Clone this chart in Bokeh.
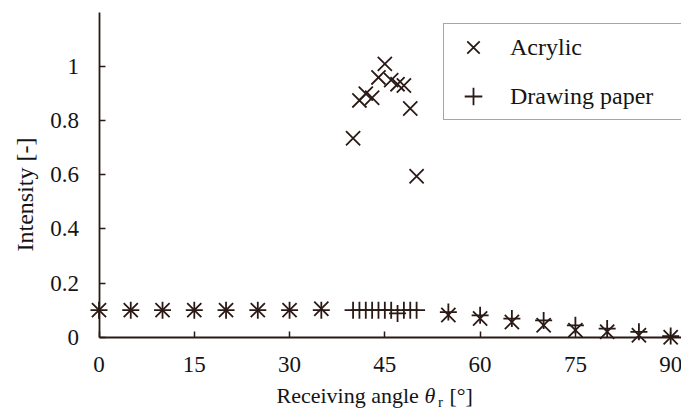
import math
from bokeh.plotting import figure
from bokeh.models import (Range1d, FixedTicker, Label, LabelSet, Legend, LegendItem,
                          ColumnDataSource, CustomJSTickFormatter)
from bokeh.embed import file_html
from bokeh.resources import INLINE

# ---- data ----
angles = [0, 5, 10, 15, 20, 25, 30, 35, 40, 41, 42, 43, 44, 45, 46, 47, 48, 49, 50,
          55, 60, 65, 70, 75, 80, 85, 90]
acrylic = [0.10, 0.10, 0.10, 0.10, 0.10, 0.10, 0.10, 0.105, 0.735, 0.875, 0.90, 0.885,
           0.96, 1.01, 0.95, 0.935, 0.93, 0.845, 0.595,
           0.082, 0.069, 0.056, 0.044, 0.026, 0.02, 0.007, 0.0]
drawing_paper = [0.10, 0.10, 0.10, 0.10, 0.10, 0.10, 0.10, 0.10, 0.10, 0.10, 0.10, 0.10,
                 0.10, 0.10, 0.10, 0.088, 0.10, 0.10, 0.10,
                 0.093, 0.081, 0.069, 0.062, 0.044, 0.032, 0.02, 0.004]
series_names = ["Acrylic", "Drawing paper"]
x_ticks = [0, 15, 30, 45, 60, 75, 90]
x_tick_labels = ["0", "15", "30", "45", "60", "75", "90"]
y_ticks = [0, 0.2, 0.4, 0.6, 0.8, 1.0]
y_tick_labels = ["0", "0.2", "0.4", "0.6", "0.8", "1"]
x_title = "Receiving angle "
x_title_sym = "θ"
x_title_sub = "r"
x_title_unit = " [°]"
y_title = "Intensity [-]"

MARK = "#2a1a16"
TEXT = "#141414"
FONT = "Liberation Serif"

# ---- layout: the plotting frame covers the whole canvas ----
W, H = 681, 410
ORIGIN_PX = (98.5, 336.7)        # canvas pixel of data (0, 0)
PX_PER_X = 6.352
PX_PER_Y = 270.6
X0 = -ORIGIN_PX[0] / PX_PER_X
X1 = (W - ORIGIN_PX[0]) / PX_PER_X
Y1 = ORIGIN_PX[1] / PX_PER_Y
Y0 = -(H - ORIGIN_PX[1]) / PX_PER_Y
X_AXIS_END = X1
Y_AXIS_END = 1.2


def xd(px):  # canvas pixel column -> data x
    return X0 + px / PX_PER_X


def yd(py):  # canvas pixel row -> data y
    return Y1 - py / PX_PER_Y


p = figure(width=W, height=H,
           x_range=Range1d(X0, X1), y_range=Range1d(Y0, Y1),
           output_backend="svg", toolbar_location=None,
           min_border_left=0, min_border_right=0, min_border_top=0, min_border_bottom=0)
p.grid.visible = False
p.outline_line_color = None
p.background_fill_color = "white"
p.border_fill_color = "white"

src = ColumnDataSource(dict(x=angles, a=acrylic, d=drawing_paper))
r1 = p.scatter("x", "a", source=src, marker="x", size=20, line_color=MARK, line_width=1.8)
r2 = p.scatter("x", "d", source=src, marker="cross", size=17, line_color=MARK, line_width=1.8)

blank = CustomJSTickFormatter(code="return ''")
for ax, ticks in ((p.xaxis[0], x_ticks), (p.yaxis[0], y_ticks)):
    ax.fixed_location = 0
    ax.ticker = FixedTicker(ticks=ticks)
    ax.formatter = blank
    ax.major_label_text_font_size = "0px"
    ax.major_label_standoff = 0
    ax.axis_label_standoff = 0
    ax.minor_tick_line_color = None
    ax.major_tick_in = 6
    ax.major_tick_out = 0
    ax.axis_line_color = MARK
    ax.axis_line_width = 1.8
    ax.major_tick_line_color = MARK
    ax.major_tick_line_width = 1.5
p.xaxis[0].bounds = (0, X_AXIS_END)
p.yaxis[0].bounds = (0, Y_AXIS_END)

# ---- tick labels ----
xt_src = ColumnDataSource(dict(x=x_ticks, y=[yd(364)] * len(x_ticks), t=x_tick_labels))
p.add_layout(LabelSet(x="x", y="y", text="t", source=xt_src, text_font=FONT,
                      text_font_size="23px", text_color=TEXT, text_align="center",
                      text_baseline="middle"))
yt_src = ColumnDataSource(dict(x=[xd(78.5)] * len(y_ticks), y=y_ticks, t=y_tick_labels))
p.add_layout(LabelSet(x="x", y="y", text="t", source=yt_src, text_font=FONT,
                      text_font_size="23px", text_color=TEXT, text_align="right",
                      text_baseline="middle"))

# ---- axis titles ----
lab_kw = dict(text_font=FONT, text_color=TEXT, text_baseline="middle", text_align="left")
p.add_layout(Label(x=xd(276), y=yd(394.5), text=x_title, text_font_size="22px", **lab_kw))
p.add_layout(Label(x=xd(424), y=yd(394.5), text=x_title_sym, text_font_size="22px",
                   text_font_style="italic", **lab_kw))
p.add_layout(Label(x=xd(437.5), y=yd(401.5), text=x_title_sub, text_font_size="15px",
                   **lab_kw))
p.add_layout(Label(x=xd(449), y=yd(394.5), text=x_title_unit, text_font_size="22px",
                   **lab_kw))
p.add_layout(Label(x=xd(24.5), y=yd(194), text=y_title, angle=math.pi / 2,
                   text_font=FONT, text_font_size="24px", text_color=TEXT,
                   text_align="center", text_baseline="middle"))

legend = Legend(items=[LegendItem(label=series_names[0], renderers=[r1]),
                       LegendItem(label=series_names[1], renderers=[r2])],
                location=(443, H - 120), margin=0, padding=1, spacing=5,
                glyph_width=56, glyph_height=44, label_standoff=9, label_width=170,
                label_text_font=FONT, label_text_font_size="24px", label_text_color=TEXT,
                border_line_color="#4d4d4d", border_line_width=1.2,
                background_fill_color="white", background_fill_alpha=1.0)
p.add_layout(legend)

open("out.html", "w").write(file_html(p, INLINE))
